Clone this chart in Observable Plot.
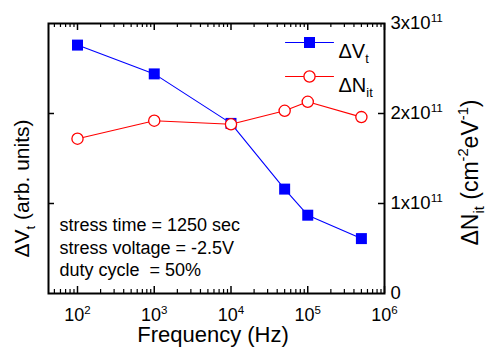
<!DOCTYPE html>
<html><head><meta charset="utf-8">
<script src="https://cdn.jsdelivr.net/npm/d3@7"></script>
<script src="https://cdn.jsdelivr.net/npm/@observablehq/plot@0.6"></script>
<style>
body{margin:0;background:#fff}
svg text{white-space:pre}
</style>
</head><body><div id="chart"></div>
<script>
// ---- data ----
const frequencies = [1e2, 1e3, 1e4, 5e4, 1e5, 5e5];           // Hz
const deltaVt     = [2.76, 2.44, 1.89, 1.16, 0.87, 0.61];       // arb. units (drawn against the right scale)
const deltaNit    = [1.72, 1.92, 1.88, 2.03, 2.13, 1.96];       // x1e11 cm^-2 eV^-1
const xMajorTicks = [1e2, 1e3, 1e4, 1e5, 1e6];
const xTickLabels = ["10^{2}", "10^{3}", "10^{4}", "10^{5}", "10^{6}"];
const yTicks      = [0, 1, 2, 3];
const yTickLabels = ["0", "1x10^{11}", "2x10^{11}", "3x10^{11}"];
const yInnerTicks = [1, 2];
const annotation  = ["stress time = 1250 sec", "stress voltage = -2.5V", "duty cycle  = 50%"];
const seriesNames = ["ΔV_{t}", "ΔN_{it}"];

const data = frequencies.map((f, i) => ({f, v: deltaVt[i], n: deltaNit[i]}));
const xMinorTicks = [];
for (let e = 1; e < 6; e++) for (let k = 2; k <= 9; k++) { const t = k * 10 ** e; if (t > 42) xMinorTicks.push(t); }

const W = 486, H = 357, mL = 48, mR = 102, mT = 23, mB = 64;
const pw = W - mL - mR, ph = H - mT - mB;
const BLUE = "#0000ff", RED = "#ff0000";
const segment = {draw(ctx, l) { ctx.moveTo(0, 0); ctx.lineTo(0, -l); }};

const plot = Plot.plot({
  width: W, height: H,
  marginLeft: mL, marginRight: mR, marginTop: mT, marginBottom: mB,
  style: {fontFamily: "'Liberation Sans', Arial, sans-serif", background: "#fff", color: "#000"},
  x: {type: "log", domain: [41.9, 1e6], label: null},
  y: {domain: [0, 3], label: null},
  marks: [
    // inward ticks
    Plot.tickX(xMinorTicks, {x: d => d, insetTop: ph - 4, stroke: "#000", strokeWidth: 1.2}),
    Plot.tickX(xMajorTicks, {x: d => d, insetTop: ph - 7, stroke: "#000", strokeWidth: 1.5}),
    Plot.tickX(xMinorTicks, {x: d => d, insetBottom: ph - 4, stroke: "#000", strokeWidth: 1.2}),
    Plot.tickX(xMajorTicks, {x: d => d, insetBottom: ph - 7, stroke: "#000", strokeWidth: 1.5}),
    Plot.tickY(yInnerTicks, {y: d => d, insetRight: pw - 6, stroke: "#000", strokeWidth: 1.5}),
    Plot.tickY(yInnerTicks, {y: d => d, insetLeft: pw - 6, stroke: "#000", strokeWidth: 1.5}),
    // tick labels
    Plot.axisX(xMajorTicks, {anchor: "bottom", tickSize: 0, tickPadding: 15, fontSize: 18,
      tickFormat: d => xTickLabels[xMajorTicks.indexOf(d)], label: null}),
    Plot.axisY(yTicks, {anchor: "right", tickSize: 0, tickPadding: 6, fontSize: 18.5,
      tickFormat: d => yTickLabels[yTicks.indexOf(d)], label: null}),
    // data
    Plot.line(data, {x: "f", y: "v", stroke: BLUE, strokeWidth: 1.1}),
    Plot.line(data, {x: "f", y: "n", stroke: RED, strokeWidth: 1.1}),
    Plot.dot(data, {x: "f", y: "v", symbol: "square", r: 6.2, fill: BLUE}),
    Plot.dot(data, {x: "f", y: "n", symbol: "circle", r: 5.6, fill: "#fff", stroke: RED, strokeWidth: 1.3}),
    // legend
    Plot.vector([0], {frameAnchor: "top-right", dx: -75, dy: 19, length: 48, rotate: 90, anchor: "middle", shape: segment, stroke: BLUE, strokeWidth: 1.1}),
    Plot.dot([0], {frameAnchor: "top-right", dx: -75, dy: 19, symbol: "square", r: 6.2, fill: BLUE}),
    Plot.text([seriesNames[0]], {frameAnchor: "top-right", dx: -46, dy: 20, textAnchor: "start", fontSize: 20}),
    Plot.vector([0], {frameAnchor: "top-right", dx: -75, dy: 53, length: 48, rotate: 90, anchor: "middle", shape: segment, stroke: RED, strokeWidth: 1.1}),
    Plot.dot([0], {frameAnchor: "top-right", dx: -75, dy: 53, symbol: "circle", r: 5.6, fill: "#fff", stroke: RED, strokeWidth: 1.3}),
    Plot.text([seriesNames[1]], {frameAnchor: "top-right", dx: -46, dy: 54, textAnchor: "start", fontSize: 20}),
    // annotation
    Plot.text([annotation.join("\n")], {frameAnchor: "left", dx: 11, dy: 88, textAnchor: "start", lineHeight: 1.25, fontSize: 18}),
    // axis titles
    Plot.text(["ΔV_{t} (arb. units)"], {frameAnchor: "left", rotate: -90, textAnchor: "start", lineAnchor: "middle", dx: -26, dy: 99, fontSize: 21}),
    Plot.text(["ΔN_{it} (cm^{-2}eV^{-1})"], {frameAnchor: "right", rotate: -90, textAnchor: "start", lineAnchor: "middle", dx: 86, dy: 87, fontSize: 23}),
    Plot.text(["Frequency (Hz)"], {frameAnchor: "bottom", textAnchor: "middle", dx: -3.5, dy: 48.5, fontSize: 22}),
    Plot.frame({stroke: "#000", strokeWidth: 2})
  ]
});
document.getElementById("chart").appendChild(plot);

// turn ^{..} / _{..} markup into real superscript / subscript tspans
function richify(svg) {
  svg.querySelectorAll("text").forEach(t => {
    if (t.querySelector("tspan")) return;
    const s = t.textContent;
    if (!/[\^_]\{/.test(s)) return;
    const fs = parseFloat(getComputedStyle(t).fontSize);
    t.textContent = "";
    const re = /([\^_])\{([^}]*)\}|([^\^_]+)/g;
    let m, shift = 0;
    while ((m = re.exec(s))) {
      const ts = document.createElementNS("http://www.w3.org/2000/svg", "tspan");
      let target;
      if (m[3] !== undefined) { ts.textContent = m[3]; target = 0; }
      else {
        ts.textContent = m[2];
        ts.setAttribute("font-size", (0.64 * fs).toFixed(1));
        target = m[1] === "^" ? -0.42 * fs : 0.28 * fs;
      }
      const d = target - shift;
      if (d) ts.setAttribute("dy", d.toFixed(1));
      shift = target;
      t.appendChild(ts);
    }
  });
}
richify(plot);
</script>
</body></html>
